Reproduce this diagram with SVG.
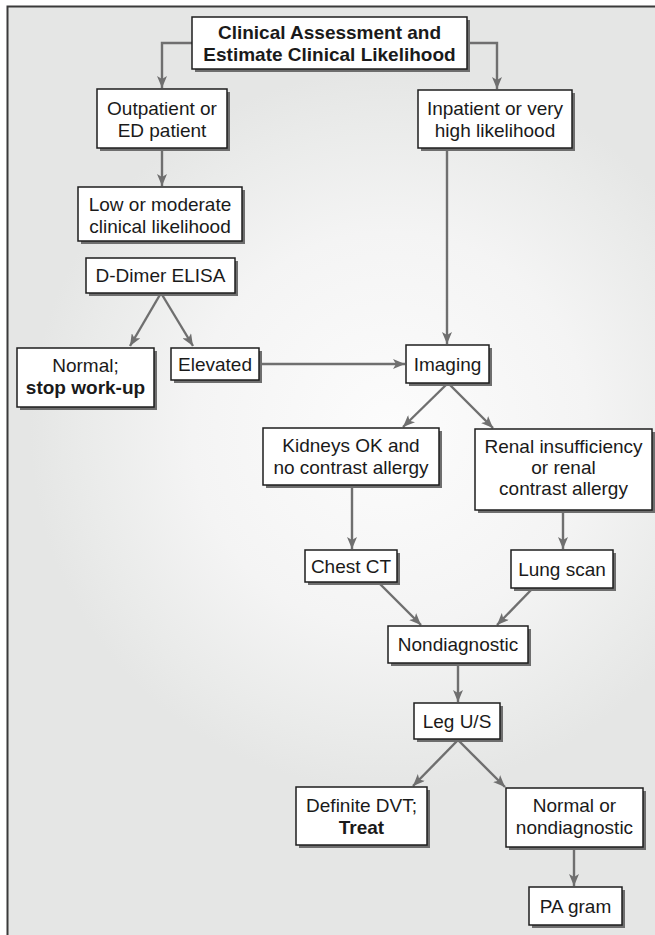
<svg xmlns="http://www.w3.org/2000/svg" width="655" height="935" viewBox="0 0 655 935">
  <style>
    .box { fill: #ffffff; stroke: #1e1e1e; stroke-width: 1.5; }
    .shadow { fill: #6e6e6e; }
    .t { font-family: "Liberation Sans", Arial, Helvetica, sans-serif; font-size: 19px; fill: #1a1a1a; text-anchor: middle; }
    .b { font-weight: bold; }
    .link { fill: none; stroke: #6f6f6f; stroke-width: 2.4; marker-end: url(#arrow); }
  </style>
  <defs>
    <radialGradient id="glow" gradientUnits="userSpaceOnUse" cx="390" cy="430" r="360">
      <stop offset="0" stop-color="#fcfcfc"/>
      <stop offset="0.55" stop-color="#f4f4f4"/>
      <stop offset="0.85" stop-color="#eaebea"/>
      <stop offset="1" stop-color="#e5e6e5"/>
    </radialGradient>
    <marker id="arrow" markerUnits="userSpaceOnUse" viewBox="0 0 12 10" refX="12" refY="5" markerWidth="12" markerHeight="10" orient="auto">
      <path d="M0,0 L12,5 L0,10 L3,5 z" fill="#6f6f6f"/>
    </marker>
  </defs>

  <!-- panel background and frame -->
  <rect x="0" y="0" width="655" height="935" fill="#ffffff"/>
  <rect x="7" y="6" width="648" height="929" fill="url(#glow)"/>
  <path d="M7.5,935 V6.5 H655" fill="none" stroke="#3a3a3a" stroke-width="2"/>

  <!-- connectors -->
  <g id="connectors">
    <polyline class="link" points="192,43 162,43 162,88"/>
    <polyline class="link" points="467,43 497,43 497,89"/>
    <line class="link" x1="162" y1="148" x2="162" y2="186"/>
    <line class="link" x1="447" y1="148" x2="447" y2="344"/>
    <line class="link" x1="161" y1="293" x2="130" y2="346"/>
    <line class="link" x1="161" y1="293" x2="193" y2="346"/>
    <line class="link" x1="259" y1="364" x2="405" y2="364"/>
    <line class="link" x1="448" y1="383" x2="403" y2="427"/>
    <line class="link" x1="448" y1="383" x2="493" y2="428"/>
    <line class="link" x1="352" y1="485" x2="352" y2="549"/>
    <line class="link" x1="563" y1="510" x2="563" y2="549"/>
    <line class="link" x1="378" y1="582" x2="421" y2="625"/>
    <line class="link" x1="533" y1="588" x2="497" y2="625"/>
    <line class="link" x1="458" y1="663" x2="458" y2="702"/>
    <line class="link" x1="458" y1="740" x2="413" y2="786"/>
    <line class="link" x1="458" y1="740" x2="505" y2="787"/>
    <line class="link" x1="574" y1="847" x2="574" y2="886"/>
  </g>

  <g id="assessment">
    <rect class="shadow" x="195" y="20" width="275" height="52"/>
    <rect class="box" x="192" y="17" width="275" height="52"/>
    <text class="t b" x="329.5" y="39">Clinical Assessment and</text>
    <text class="t b" x="329.5" y="61">Estimate Clinical Likelihood</text>
  </g>

  <g id="outpatient">
    <rect class="shadow" x="100" y="92" width="130" height="59"/>
    <rect class="box" x="97" y="89" width="130" height="59"/>
    <text class="t" x="162" y="115">Outpatient or</text>
    <text class="t" x="162" y="137">ED patient</text>
  </g>

  <g id="inpatient">
    <rect class="shadow" x="421" y="93" width="154" height="58"/>
    <rect class="box" x="418" y="90" width="154" height="58"/>
    <text class="t" x="495" y="115">Inpatient or very</text>
    <text class="t" x="495" y="137">high likelihood</text>
  </g>

  <g id="low-moderate">
    <rect class="shadow" x="81" y="190" width="164" height="54"/>
    <rect class="box" x="78" y="187" width="164" height="54"/>
    <text class="t" x="160" y="211">Low or moderate</text>
    <text class="t" x="160" y="233">clinical likelihood</text>
  </g>

  <g id="d-dimer">
    <rect class="shadow" x="89" y="261" width="149" height="35"/>
    <rect class="box" x="86" y="258" width="149" height="35"/>
    <text class="t" x="160.5" y="282">D-Dimer ELISA</text>
  </g>

  <g id="normal">
    <rect class="shadow" x="20" y="351" width="137" height="59"/>
    <rect class="box" x="17" y="348" width="137" height="59"/>
    <text class="t" x="85.5" y="372">Normal;</text>
    <text class="t b" x="85.5" y="394">stop work-up</text>
  </g>

  <g id="elevated">
    <rect class="shadow" x="174" y="351" width="88" height="32"/>
    <rect class="box" x="171" y="348" width="88" height="32"/>
    <text class="t" x="215" y="371">Elevated</text>
  </g>

  <g id="imaging">
    <rect class="shadow" x="409" y="348" width="83" height="38"/>
    <rect class="box" x="406" y="345" width="83" height="38"/>
    <text class="t" x="447.5" y="371">Imaging</text>
  </g>

  <g id="kidneys-ok">
    <rect class="shadow" x="266" y="431" width="176" height="57"/>
    <rect class="box" x="263" y="428" width="176" height="57"/>
    <text class="t" x="351" y="452">Kidneys OK and</text>
    <text class="t" x="351" y="474">no contrast allergy</text>
  </g>

  <g id="renal">
    <rect class="shadow" x="478" y="432" width="177" height="81"/>
    <rect class="box" x="475" y="429" width="177" height="81"/>
    <text class="t" x="563.5" y="453">Renal insufficiency</text>
    <text class="t" x="563.5" y="474">or renal</text>
    <text class="t" x="563.5" y="495">contrast allergy</text>
  </g>

  <g id="chest-ct">
    <rect class="shadow" x="308" y="553" width="92" height="32"/>
    <rect class="box" x="305" y="550" width="92" height="32"/>
    <text class="t" x="351" y="573">Chest CT</text>
  </g>

  <g id="lung-scan">
    <rect class="shadow" x="514" y="553" width="102" height="38"/>
    <rect class="box" x="511" y="550" width="102" height="38"/>
    <text class="t" x="562" y="576">Lung scan</text>
  </g>

  <g id="nondiagnostic">
    <rect class="shadow" x="391" y="629" width="140" height="37"/>
    <rect class="box" x="388" y="626" width="140" height="37"/>
    <text class="t" x="458" y="651">Nondiagnostic</text>
  </g>

  <g id="leg-us">
    <rect class="shadow" x="417" y="706" width="86" height="36"/>
    <rect class="box" x="414" y="703" width="86" height="36"/>
    <text class="t" x="457" y="728">Leg U/S</text>
  </g>

  <g id="definite-dvt">
    <rect class="shadow" x="299" y="790" width="131" height="58"/>
    <rect class="box" x="296" y="787" width="131" height="58"/>
    <text class="t" x="361.5" y="812">Definite DVT;</text>
    <text class="t b" x="361.5" y="834">Treat</text>
  </g>

  <g id="normal-nondiagnostic">
    <rect class="shadow" x="509" y="791" width="137" height="59"/>
    <rect class="box" x="506" y="788" width="137" height="59"/>
    <text class="t" x="574.5" y="812">Normal or</text>
    <text class="t" x="574.5" y="834">nondiagnostic</text>
  </g>

  <g id="pa-gram">
    <rect class="shadow" x="532" y="890" width="93" height="38"/>
    <rect class="box" x="529" y="887" width="93" height="38"/>
    <text class="t" x="575.5" y="913">PA gram</text>
  </g>
</svg>
